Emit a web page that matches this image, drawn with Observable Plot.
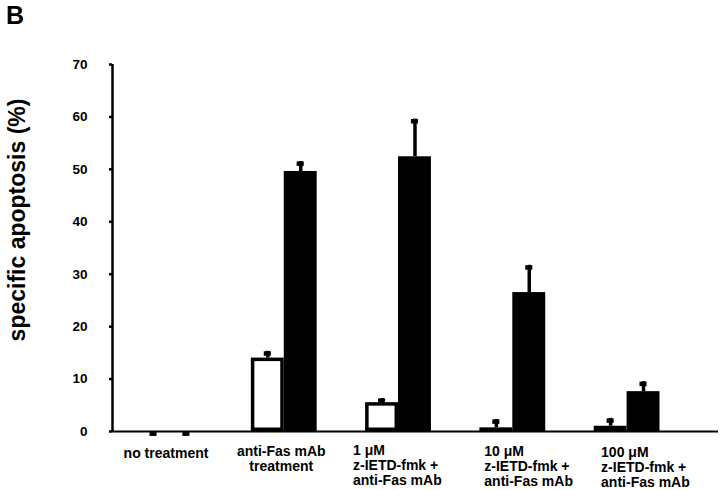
<!DOCTYPE html>
<html>
<head>
<meta charset="utf-8">
<script src="https://cdn.jsdelivr.net/npm/d3@7"></script>
<script src="https://cdn.jsdelivr.net/npm/@observablehq/plot@0.6"></script>
<style>
  html, body { margin: 0; padding: 0; background: #fff; }
  #wrap { position: relative; width: 720px; height: 490px; }
  #panel { position: absolute; left: 6px; top: 1px; font: bold 25px "Liberation Sans", Arial, sans-serif; color: #000; }
  svg { display: block; }
</style>
</head>
<body>
<div id="wrap"><div id="panel">B</div></div>
<script>
// ---- data ----
const groupLabels = [
  ["no treatment"],
  ["anti-Fas mAb", "treatment"],
  ["1 μM", "z-IETD-fmk +", "anti-Fas mAb"],
  ["10 μM", "z-IETD-fmk +", "anti-Fas mAb"],
  ["100 μM", "z-IETD-fmk +", "anti-Fas mAb"]
];
const whiteValues = [0, 14.0, 5.5, 0.7, 1.0];
const whiteUpper  = [0, 15.3, 6.3, 2.3, 2.5];
const blackValues = [0, 49.6, 52.4, 26.5, 7.6];
const blackUpper  = [0, 51.5, 59.6, 31.7, 9.5];
const yTicks = [0, 10, 20, 30, 40, 50, 60, 70];
const yLabel = "specific apoptosis (%)";

// ---- table ----
const rows = groupLabels.flatMap((g, i) => [
  {i, series: "white", value: whiteValues[i], upper: whiteUpper[i]},
  {i, series: "black", value: blackValues[i], upper: blackUpper[i]}
]);

const bw = 0.288;       // bar width in group units
const capHalf = 0.031;  // half cap width in group units
const xLeft = (d) => d.i + (d.series === "white" ? -bw : 0);
const xRight = (d) => d.i + (d.series === "white" ? 0 : bw);
const xMid = (d) => d.i + (d.series === "white" ? -bw / 2 : bw / 2);

const font = "'Liberation Sans', Arial, sans-serif";
const txt = {fontSize: 14, fontWeight: "bold", fill: "black", lineHeight: 1.07, frameAnchor: "bottom", lineAnchor: "middle"};

function label(lines, i, opts) {
  return Plot.text([lines.join("\n")], {x: () => i, text: d => d, ...txt, ...opts});
}

const chart = Plot.plot({
  width: 720,
  height: 490,
  marginLeft: 112,
  marginRight: 2,
  marginTop: 64,
  marginBottom: 59,
  style: {fontFamily: font, background: "white", overflow: "visible"},
  x: {domain: [-0.503, 4.8], axis: null},
  y: {domain: [0, 70], axis: null},
  marks: [
    // bars
    Plot.rect(rows.filter(d => d.series === "black" && d.value > 0), {
      x1: xLeft, x2: xRight, y1: 0, y2: "value", fill: "black"
    }),
    Plot.rect(rows.filter(d => d.series === "white" && d.value > 0), {
      x1: xLeft, x2: xRight, y1: 0, y2: "value", fill: "white",
      stroke: "black", strokeWidth: 3.5, inset: 1.75
    }),
    // error stems and caps
    Plot.ruleX(rows.filter(d => d.upper > d.value), {
      x: xMid, y1: "value", y2: "upper", stroke: "black", strokeWidth: 3.5
    }),
    Plot.ruleY(rows, {
      x1: d => xMid(d) - capHalf, x2: d => xMid(d) + capHalf, y: "upper",
      stroke: "black", strokeWidth: 4.5, dy: 2.2
    }),
    // axes
    Plot.ruleY([0], {stroke: "black", strokeWidth: 2}),
    Plot.ruleX([-0.503], {stroke: "black", strokeWidth: 2.5}),
    Plot.axisY({
      ticks: yTicks, tickSize: 3, tickPadding: 22, strokeWidth: 2.5,
      fontSize: 13.5, fontWeight: "bold", label: null, tickFormat: d => String(d)
    }),
    Plot.text([yLabel], {
      frameAnchor: "left", textAnchor: "middle", lineAnchor: "middle",
      text: d => d, rotate: -90, dx: -95, dy: -28,
      fontSize: 23, fontWeight: "bold", fill: "black"
    }),
    // category labels
    label(groupLabels[0], 0, {dx: -4, dy: 22}),
    label(groupLabels[1], 1, {dx: -3, dy: 27}),
    label(groupLabels[2], 2, {dx: -45.5, dy: 34, textAnchor: "start"}),
    label(groupLabels[3], 3, {dx: -28.5, dy: 34.5, textAnchor: "start"}),
    label(groupLabels[4], 4, {dx: -26, dy: 35.5, textAnchor: "start"})
  ]
});
document.getElementById("wrap").appendChild(chart);
</script>
</body>
</html>
